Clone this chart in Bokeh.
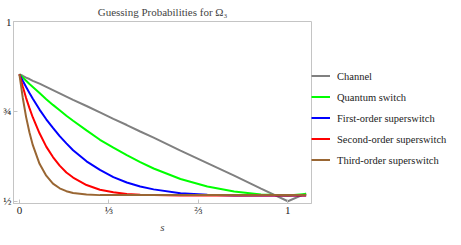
from bokeh.plotting import figure
from bokeh.models import Range1d, Legend, LegendItem, FixedTicker
from bokeh.embed import file_html
from bokeh.resources import INLINE

s_values = [0, 0.0125, 0.025, 0.0375, 0.05, 0.075, 0.1, 0.125, 0.15, 0.175, 0.2, 0.25, 0.3,
            0.35, 0.4, 0.45, 0.5, 0.6, 0.7, 0.8, 0.9, 1.0, 1.068]
channel = [0.853, 0.849, 0.844, 0.840, 0.835, 0.827, 0.818, 0.809, 0.800, 0.791, 0.782, 0.765, 0.747,
           0.729, 0.712, 0.694, 0.677, 0.641, 0.606, 0.571, 0.535, 0.500, 0.522]
quantum_switch = [0.853, 0.844, 0.835, 0.826, 0.818, 0.801, 0.784, 0.768, 0.753, 0.738, 0.724, 0.697, 0.671,
                  0.649, 0.628, 0.609, 0.591, 0.562, 0.541, 0.527, 0.519, 0.516, 0.520]
first_order = [0.853, 0.835, 0.818, 0.801, 0.785, 0.755, 0.728, 0.704, 0.681, 0.661, 0.642, 0.611, 0.587,
               0.567, 0.552, 0.541, 0.533, 0.522, 0.518, 0.516, 0.516, 0.516, 0.516]
second_order = [0.853, 0.819, 0.787, 0.759, 0.733, 0.689, 0.652, 0.623, 0.599, 0.580, 0.566, 0.545, 0.532,
                0.525, 0.520, 0.518, 0.517, 0.516, 0.516, 0.516, 0.516, 0.516, 0.516]
third_order = [0.853, 0.788, 0.734, 0.691, 0.656, 0.604, 0.571, 0.549, 0.536, 0.528, 0.523, 0.519, 0.517,
               0.517, 0.517, 0.517, 0.517, 0.517, 0.517, 0.517, 0.517, 0.517, 0.517]

series_names = ["Channel", "Quantum switch", "First-order superswitch",
                "Second-order superswitch", "Third-order superswitch"]
series_colors = ["#808080", "#00ff00", "#0000ff", "#ff0000", "#996633"]

x_ticks = [0, 1/3, 2/3, 1]
x_tick_labels = ["0", "⅓", "⅔", "1"]
y_ticks = [0.5, 0.75, 1.0]
y_tick_labels = ["½", "¾", "1"]

SERIF = "Liberation Serif"
FRAME = "#c4c4c4"

p = figure(frame_width=298, frame_height=182, output_backend="svg", toolbar_location=None,
           x_range=Range1d(-0.022, 1.088), y_range=Range1d(0.4937, 1.0),
           min_border_left=0, min_border_right=0, min_border_top=15, min_border_bottom=0)
p.title.text = "Guessing Probabilities for Ω₃"
p.title.text_font = SERIF
p.title.text_font_size = "11px"
p.title.text_font_style = "normal"
p.title.align = "center"
p.title.standoff = 7
p.title.offset = 0

p.grid.visible = False
p.outline_line_color = FRAME
p.background_fill_color = "white"

for ax in (p.xaxis[0], p.yaxis[0]):
    ax.axis_line_color = FRAME
    ax.major_tick_line_color = FRAME
    ax.minor_tick_line_color = None
    ax.major_tick_in = 4
    ax.major_tick_out = 0
    ax.major_label_text_font = SERIF
    ax.major_label_text_font_size = "11px"
    ax.major_label_text_color = "#222222"
    ax.major_label_standoff = 2
p.xaxis.major_label_standoff = 0

p.xaxis.ticker = FixedTicker(ticks=x_ticks)
p.xaxis.major_label_overrides = {t: l for t, l in zip(x_ticks, x_tick_labels)}
p.yaxis.ticker = FixedTicker(ticks=y_ticks)
p.yaxis.major_label_overrides = {t: l for t, l in zip(y_ticks, y_tick_labels)}
p.xaxis.axis_label = "s"
p.xaxis.axis_label_text_font = SERIF
p.xaxis.axis_label_text_font_style = "italic"
p.xaxis.axis_label_text_font_size = "11px"
p.xaxis.axis_label_standoff = 2

items = []
for name, col, ys in zip(series_names, series_colors,
                         [channel, quantum_switch, first_order, second_order, third_order]):
    r = p.line(s_values, ys, line_color=col, line_width=2)
    items.append(LegendItem(label=name, renderers=[r]))

legend = Legend(items=items, location="left", title=" ")
legend.title_text_font_size = "10px"
legend.title_standoff = 0
legend.border_line_color = None
legend.background_fill_alpha = 0
legend.label_text_font = SERIF
legend.label_text_font_size = "10.5px"
legend.label_text_color = "#222222"
legend.glyph_width = 19
legend.glyph_height = 14
legend.label_height = 14
legend.label_standoff = 7
legend.spacing = 7
legend.padding = 6
legend.margin = 0
p.add_layout(legend, "right")

open("out.html", "w").write(file_html(p, INLINE))
